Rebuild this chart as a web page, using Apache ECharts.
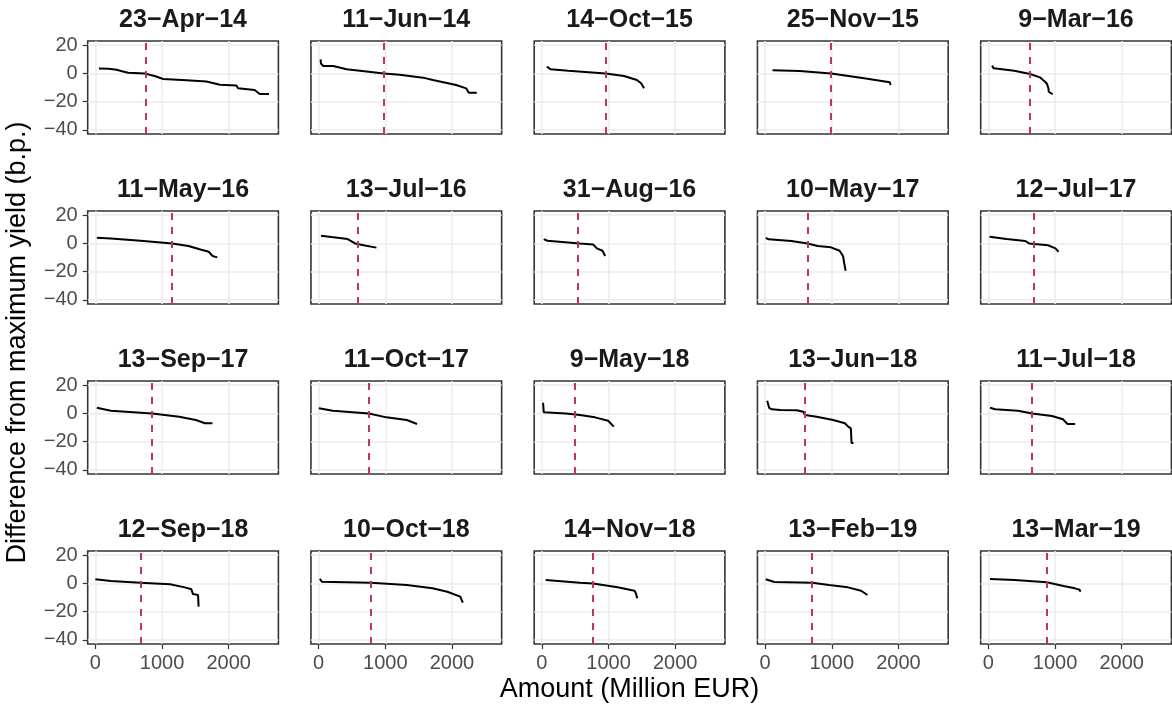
<!DOCTYPE html>
<html>
<head>
<meta charset="utf-8">
<script src="https://cdn.jsdelivr.net/npm/echarts@6/dist/echarts.min.js"></script>
<style>
    html, body { margin: 0; padding: 0; background: #fff; }
    #chart { width: 1172px; height: 706px; }
</style>
</head>
<body>
<div id="chart"></div>
<script>
// auction dates, one panel each (R draws the hyphen as a minus sign)
const auctionDates = [
    "23−Apr−14", "11−Jun−14", "14−Oct−15", "25−Nov−15", "9−Mar−16",
    "11−May−16", "13−Jul−16", "31−Aug−16", "10−May−17", "12−Jul−17",
    "13−Sep−17", "11−Oct−17", "9−May−18", "13−Jun−18", "11−Jul−18",
    "12−Sep−18", "10−Oct−18", "14−Nov−18", "13−Feb−19", "13−Mar−19"
];
// allotted amount (dashed line), million EUR
const cutoffAmounts = [
    750, 976, 957, 990, 626,
    1153, 590, 545, 636, 684,
    853, 756, 488, 597, 657,
    677, 784, 768, 705, 876
];

// [cumulative amount, difference from max yield]
const curve_23Apr14 = [[54,3.5],[200,3.3],[318,2.6],[400,1.5],[493,0.5],[742,0],[800,-0.8],[900,-2],[1017,-4.0],[1367,-4.9],[1666,-5.8],[1868,-8.1],[2115,-8.6],[2140,-10.5],[2389,-11.8],[2464,-14.6],[2603,-14.6]];
const curve_11Jun14 = [[30,10],[35,7],[69,5.3],[219,5.3],[419,2.9],[719,1.4],[976,0],[1216,-0.9],[1565,-3.0],[1714,-4.7],[2063,-8.2],[2213,-10.6],[2252,-13.7],[2372,-13.7]];
const curve_14Oct15 = [[76,4.8],[129,2.9],[398,1.9],[957,0],[1232,-1.8],[1425,-4.7],[1488,-7.0],[1533,-10.6]];
const curve_25Nov15 = [[111,2.2],[521,1.7],[990,0],[1484,-3.5],[1870,-6.2],[1882,-8.2]];
const curve_9Mar16 = [[54,5.5],[81,3.6],[388,1.9],[626,-0.4],[772,-2.8],[850,-5.9],[880,-7.5],[901,-10.6],[905,-13],[965,-14.8]];
const curve_11May16 = [[22,4.0],[233,3.4],[677,1.9],[1153,0],[1397,-1.8],[1563,-4.2],[1700,-5.9],[1756,-8.9],[1828,-9.9]];
const curve_13Jul16 = [[36,5.5],[436,3.1],[546,0],[713,-1.6],[867,-3.0]];
const curve_31Aug16 = [[28,3.1],[84,1.9],[570,0],[768,-0.7],[825,-3.5],[909,-5.2],[949,-8.9]];
const curve_10May17 = [[9,4.0],[54,2.9],[394,1.7],[636,0],[789,-1.8],[987,-2.8],[1117,-5.2],[1168,-8.9],[1186,-14.1],[1208,-19.4]];
const curve_12Jul17 = [[18,4.8],[272,3.1],[555,1.7],[611,0],[894,-1.3],[1007,-3.5],[1052,-5.9]];
const curve_13Sep17 = [[22,4.0],[233,1.9],[853,0],[1258,-2.3],[1507,-4.7],[1645,-7.0],[1756,-7.0]];
const curve_11Oct17 = [[3,3.6],[214,1.9],[756,0],[1016,-2.8],[1322,-4.7],[1476,-7.5]];
const curve_9May18 = [[18,7.6],[28,0.8],[361,0],[570,-1.1],[796,-2.8],[994,-5.2],[1079,-9.4]];
const curve_13Jun18 = [[31,9.0],[60,4],[100,2.9],[225,2.4],[473,2.2],[572,1.2],[597,-1.1],[772,-2.3],[1021,-4.7],[1196,-7.0],[1246,-9.4],[1286,-10.6],[1296,-21],[1325,-21]];
const curve_11Jul18 = [[25,4.0],[103,2.9],[443,1.9],[657,0],[952,-1.8],[1120,-4.2],[1187,-7.5],[1301,-7.5]];
const curve_12Sep18 = [[0,2.9],[233,1.7],[677,0.5],[1120,-0.6],[1341,-2.8],[1440,-4.2],[1463,-7.5],[1540,-8.2],[1548,-16.5]];
const curve_10Oct18 = [[19,3.3],[48,1.2],[784,0.5],[1322,-1.1],[1708,-3.5],[1930,-5.9],[2124,-9.4],[2163,-13.7]];
const curve_14Nov18 = [[57,2.4],[570,0.5],[768,0],[1136,-2.8],[1389,-5.2],[1410,-7],[1430,-10.6]];
const curve_13Feb19 = [[9,2.9],[139,1.0],[705,0.5],[960,-1.1],[1241,-2.8],[1439,-5.2],[1535,-8.2]];
const curve_13Mar19 = [[25,3.1],[395,2.4],[876,0.8],[1127,-1.8],[1296,-3.5],[1370,-4.5],[1380,-5.9]];

const curves = [
    curve_23Apr14, curve_11Jun14, curve_14Oct15, curve_25Nov15, curve_9Mar16,
    curve_11May16, curve_13Jul16, curve_31Aug16, curve_10May17, curve_12Jul17,
    curve_13Sep17, curve_11Oct17, curve_9May18, curve_13Jun18, curve_11Jul18,
    curve_12Sep18, curve_10Oct18, curve_14Nov18, curve_13Feb19, curve_13Mar19
];

const xTicks = [0, 1000, 2000];
const yTicks = [-40, -20, 0, 20];
const xRange = [-115, 2745];
const yRange = [-43, 23];

// facet layout
const COLS = 5, ROWS = 4;
const LEFT0 = 87.7, TOP0 = 41, STEP_X = 223.25, STEP_Y = 170;
const PANEL_W = 190.7, PANEL_H = 93;
const FONT = '"Liberation Sans", Arial, Helvetica, sans-serif';

const plain = v => String(v).replace('-', '\u2212');

function buildOption() {
    let grids = [], xAxes = [], yAxes = [], series = [], texts = [];
    curves.forEach((data, i) => {
        let col = i % COLS, row = Math.floor(i / COLS);
        let left = LEFT0 + col * STEP_X, top = TOP0 + row * STEP_Y;
        let isBottom = row === ROWS - 1, isLeft = col === 0;
        grids.push({
            left: left, top: top, width: PANEL_W, height: PANEL_H,
            show: true, borderColor: '#333333', borderWidth: 1.6,
            backgroundColor: '#fff', outerBoundsMode: 'none'
        });
        xAxes.push({
            type: 'value', gridIndex: i, min: xRange[0], max: xRange[1],
            axisLine: { show: false, onZero: false },
            axisTick: { show: isBottom, length: 5, customValues: xTicks,
                lineStyle: { color: '#333333', width: 1.2 } },
            axisLabel: { show: isBottom, customValues: xTicks, margin: 9,
                fontSize: 20, color: '#4d4d4d', fontFamily: FONT, formatter: plain },
            splitLine: { show: true, lineStyle: { color: '#ebebeb', width: 1.5 } }
        });
        yAxes.push({
            type: 'value', gridIndex: i, min: yRange[0], max: yRange[1],
            axisLine: { show: false, onZero: false },
            axisTick: { show: isLeft, length: 5, customValues: yTicks,
                lineStyle: { color: '#333333', width: 1.2 } },
            axisLabel: { show: isLeft, customValues: yTicks, margin: 10,
                fontSize: 20, color: '#4d4d4d', fontFamily: FONT, formatter: plain },
            splitLine: { show: true, lineStyle: { color: '#ebebeb', width: 1.5 } }
        });
        series.push({
            type: 'line', xAxisIndex: i, yAxisIndex: i, data: data,
            showSymbol: false, symbol: 'none',
            lineStyle: { color: '#000', width: 2 },
            markLine: {
                silent: true, symbol: ['none', 'none'], label: { show: false },
                lineStyle: { color: '#c0306b', width: 2, type: [7, 7] },
                data: [{ xAxis: cutoffAmounts[i] }]
            }
        });
        // strip title
        texts.push({
            type: 'text', x: left + PANEL_W / 2, y: top - 20.5,
            style: { text: auctionDates[i], fill: '#1a1a1a',
                font: 'bold 25px ' + FONT,
                align: 'center', verticalAlign: 'middle',
                textAlign: 'center', textVerticalAlign: 'middle' }
        });
    });
    // axis titles
    texts.push({
        type: 'text', x: LEFT0 + (STEP_X * (COLS - 1) + PANEL_W) / 2, y: 690,
        style: { text: 'Amount (Million EUR)', fill: '#000', font: '27px ' + FONT,
            align: 'center', verticalAlign: 'middle',
            textAlign: 'center', textVerticalAlign: 'middle' }
    });
    texts.push({
        type: 'text', x: 18, y: TOP0 + (STEP_Y * (ROWS - 1) + PANEL_H) / 2,
        rotation: Math.PI / 2,
        style: { text: 'Difference from maximum yield (b.p.)', fill: '#000', font: '27px ' + FONT,
            align: 'center', verticalAlign: 'middle',
            textAlign: 'center', textVerticalAlign: 'middle' }
    });
    return {
        animation: false,
        backgroundColor: '#fff',
        grid: grids,
        xAxis: xAxes,
        yAxis: yAxes,
        series: series,
        graphic: texts
    };
}

const chart = echarts.init(document.getElementById('chart'));
chart.setOption(buildOption());
</script>
</body>
</html>
